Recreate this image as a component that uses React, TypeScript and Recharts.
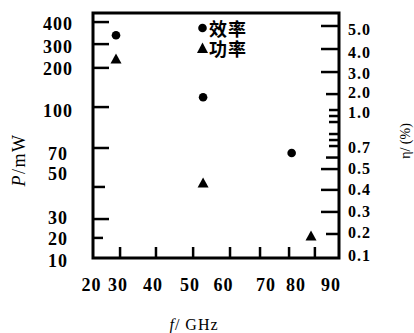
import React from 'react';
import { ComposedChart, Scatter, XAxis, YAxis, ReferenceArea, Legend } from 'recharts';

// ---- data ----
const SERIES_NAMES = ['效率', '功率'];
const EFF_FREQ = [28.5, 52.7, 81];
const EFF_VALUES = [4.6, 1.8, 0.64]; // η (%)
const POW_FREQ = [28.5, 52.7, 88.5];
const POW_VALUES = [237, 52, 21]; // P (mW)

const X_TICKS = [20, 30, 40, 50, 60, 70, 80, 90];
const P_TICKS = [10, 20, 30, 50, 70, 100, 200, 300, 400];
const ETA_TICKS = [0.1, 0.2, 0.3, 0.4, 0.5, 0.7, 1.0, 2.0, 3.0, 4.0, 5.0];
const ETA_LABELS = ['0.1', '0.2', '0.3', '0.4', '0.5', '0.7', '1.0', '2.0', '3.0', '4.0', '5.0'];
const ETA_MINOR_TICKS = [0.6, 0.75, 0.8, 0.9, 0.95];

// ---- non-uniform axis scales of the original figure (value -> fraction of axis) ----
type Stop = [number, number];
const X_SCALE: Stop[] = [[20, 0], [30, 0.11], [40, 0.256], [50, 0.407], [60, 0.557], [70, 0.679], [80, 0.797], [90, 0.902], [100, 1]];
const P_SCALE: Stop[] = [[10, 0], [20, 0.082], [30, 0.159], [50, 0.29], [70, 0.449], [100, 0.616], [200, 0.776], [300, 0.873], [400, 0.963], [440, 1]];
const ETA_SCALE: Stop[] = [[0.1, 0], [0.2, 0.098], [0.3, 0.188], [0.4, 0.278], [0.5, 0.363], [0.7, 0.457], [1.0, 0.604], [2.0, 0.669], [3.0, 0.759], [4.0, 0.853], [5.0, 0.947], [5.3, 1]];

function piecewise(stops: Stop[]) {
  return (v: number) => {
    for (let i = 0; i < stops.length - 1; i++) {
      const [v0, f0] = stops[i];
      const [v1, f1] = stops[i + 1];
      if (v <= v1 || i === stops.length - 2) return f0 + ((v - v0) / (v1 - v0)) * (f1 - f0);
    }
    return 0;
  };
}
const mapX = piecewise(X_SCALE);
const mapP = piecewise(P_SCALE);
const mapEta = piecewise(ETA_SCALE);

const effData = EFF_FREQ.map((f, i) => ({ x: mapX(f), y: mapEta(EFF_VALUES[i]) }));
const powData = POW_FREQ.map((f, i) => ({ x: mapX(f), y: mapP(POW_VALUES[i]) }));

const X_TICK_POS = X_TICKS.map(mapX);
const P_TICK_POS = P_TICKS.map(mapP);
const ETA_ALL = [...ETA_TICKS, ...ETA_MINOR_TICKS];
const ETA_TICK_POS = ETA_ALL.map(mapEta);

// ---- rendering tweaks (label nudges / tick lengths of the hand-drawn axes) ----
const X_LABEL_DX = [-1.5, -2, -3, -3, -6.5, 6, 7, 16];
const P_LABEL_DY = [3, 1, -1, -13, 5.7, 4, 1, 2.5, 2];
const P_TICK_LEN = [0, 10, 16, 12, 16, 16, 16, 16, 16];
const ETA_LABEL_DY = [-3, -1, 0, 0, -1, 1, 2, -2, 1, 3, 4];
const ETA_TICK_LEN = [0, 13, 18, 18, 18, 10, 10, 13, 18, 18, 18, 13, 10, 10, 10, 10];

const NUM_FONT = '"Liberation Serif", "Times New Roman", serif';

const findIdx = (arr: number[], v: number) => arr.findIndex((a) => Math.abs(a - v) < 1e-9);

function XTick(props: any) {
  const { x, y, payload } = props;
  const i = findIdx(X_TICK_POS, payload.value);
  if (i < 0) return null;
  return (
    <g>
      {i > 0 && <line x1={x} x2={x} y1={y} y2={y - 11} stroke="#000" strokeWidth={2.5} />}
      <text x={x + X_LABEL_DX[i]} y={y + 27} textAnchor="middle" dominantBaseline="central"
        fontFamily={NUM_FONT} fontWeight="bold" fontSize={18} letterSpacing={1} fill="#000">
        {X_TICKS[i]}
      </text>
    </g>
  );
}

function PTick(props: any) {
  const { x, y, payload } = props;
  const i = findIdx(P_TICK_POS, payload.value);
  if (i < 0) return null;
  return (
    <g>
      {P_TICK_LEN[i] > 0 && <line x1={x} x2={x + P_TICK_LEN[i]} y1={y} y2={y} stroke="#000" strokeWidth={2.5} />}
      <text x={x - 35} y={y + P_LABEL_DY[i]} textAnchor="middle" dominantBaseline="central"
        fontFamily={NUM_FONT} fontWeight="bold" fontSize={18} letterSpacing={1} fill="#000">
        {P_TICKS[i]}
      </text>
    </g>
  );
}

function EtaTick(props: any) {
  const { x, y, payload } = props;
  const i = findIdx(ETA_TICK_POS, payload.value);
  if (i < 0) return null;
  const labeled = i < ETA_TICKS.length;
  return (
    <g>
      {ETA_TICK_LEN[i] > 0 && <line x1={x - ETA_TICK_LEN[i]} x2={x} y1={y} y2={y} stroke="#000" strokeWidth={2.5} />}
      {labeled && (
        <text x={x + 9} y={y + ETA_LABEL_DY[i]} textAnchor="start" dominantBaseline="central"
          fontFamily={NUM_FONT} fontWeight="bold" fontSize={16} letterSpacing={1} fill="#000">
          {ETA_LABELS[i]}
        </text>
      )}
    </g>
  );
}

const DotShape = (p: any) => <circle cx={p.cx} cy={p.cy} r={4.3} fill="#000" />;
const TriShape = (p: any) => (
  <polygon points={`${p.cx},${p.cy - 5.5} ${p.cx + 5.5},${p.cy + 4.5} ${p.cx - 5.5},${p.cy + 4.5}`} fill="#000" />
);

const renderLegend = (props: any) => {
  const payload = [...(props.payload || [])].sort(
    (a: any, b: any) => SERIES_NAMES.indexOf(a.value) - SERIES_NAMES.indexOf(b.value)
  );
  return (
    <div style={{ fontFamily: '"Noto Sans CJK SC", sans-serif', fontSize: 18, fontWeight: 700, lineHeight: '18px', color: '#000' }}>
      {payload.map((e: any, i: number) => (
        <div key={i} style={{ display: 'flex', alignItems: 'center', height: 20 }}>
          <svg width={11} height={12} style={{ display: 'block', marginRight: 1 }}>
            {e.type === 'circle' ? (
              <circle cx={5.5} cy={6} r={4.3} fill="#000" />
            ) : (
              <polygon points="5.5,0.5 11,11 0,11" fill="#000" />
            )}
          </svg>
          <span style={{ display: 'block', height: 18, lineHeight: '18px', letterSpacing: 1 }}>{e.value}</span>
        </div>
      ))}
    </div>
  );
};

const PTitle = (props: any) => {
  const vb = props.viewBox || { x: 0, y: 13, width: 93, height: 245 };
  const cx = vb.x + 18.5;
  const cy = vb.y + vb.height / 2 + 24.5;
  return (
    <text x={cx} y={cy} transform={`rotate(-90 ${cx} ${cy})`} textAnchor="middle" dominantBaseline="central"
      fontFamily={NUM_FONT} fontSize={18} letterSpacing={1.5} fill="#000">
      <tspan fontStyle="italic">P</tspan>
      <tspan>/mW</tspan>
    </text>
  );
};

const EtaTitle = (props: any) => {
  const vb = props.viewBox || { x: 339, y: 13, width: 75, height: 245 };
  const cx = vb.x + 66;
  const cy = 141;
  return (
    <text x={cx} y={cy} transform={`rotate(-90 ${cx} ${cy})`} textAnchor="middle" dominantBaseline="central"
      fontFamily={NUM_FONT} fontSize={14} fill="#000">
      η/ (%)
    </text>
  );
};

const XTitle = (props: any) => {
  const vb = props.viewBox || { x: 93, y: 258, width: 246, height: 75 };
  return (
    <text x={vb.x + 101} y={vb.y + 72} textAnchor="middle" fontFamily={NUM_FONT} fontSize={16} letterSpacing={1} fill="#000">
      <tspan fontStyle="italic">f</tspan>
      <tspan>/ GHz</tspan>
    </text>
  );
};

export default function App() {
  return (
    <div style={{ position: 'fixed', left: 0, top: 0, width: 414, height: 333, background: '#fff' }}>
      <ComposedChart width={414} height={333} margin={{ top: 13, right: 0, bottom: 0, left: 0 }}>
        <XAxis dataKey="x" type="number" domain={[0, 1]} ticks={X_TICK_POS} interval={0}
          tick={<XTick />} tickLine={false} axisLine={false} tickSize={0} tickMargin={0} height={75}
          label={{ content: XTitle }} />
        <YAxis yAxisId="p" orientation="left" dataKey="y" type="number" domain={[0, 1]} ticks={P_TICK_POS} interval={0}
          tick={<PTick />} tickLine={false} axisLine={false} tickSize={0} tickMargin={0} width={93}
          label={{ content: PTitle }} />
        <YAxis yAxisId="eta" orientation="right" dataKey="y" type="number" domain={[0, 1]} ticks={ETA_TICK_POS} interval={0}
          tick={<EtaTick />} tickLine={false} axisLine={false} tickSize={0} tickMargin={0} width={75}
          label={{ content: EtaTitle }} />
        <ReferenceArea yAxisId="p" x1={0} x2={1} y1={0} y2={1} stroke="#000" strokeWidth={3} fill="none" fillOpacity={0} />
        <Scatter name={SERIES_NAMES[0]} data={effData} dataKey="y" yAxisId="eta" legendType="circle"
          shape={DotShape} fill="#000" isAnimationActive={false} />
        <Scatter name={SERIES_NAMES[1]} data={powData} dataKey="y" yAxisId="p" legendType="triangle"
          shape={TriShape} fill="#000" isAnimationActive={false} />
        <Legend layout="vertical" align="center" verticalAlign="middle" content={renderLegend}
          wrapperStyle={{ left: 197, top: 18, width: 'auto', height: 'auto' }} />
      </ComposedChart>
    </div>
  );
}
